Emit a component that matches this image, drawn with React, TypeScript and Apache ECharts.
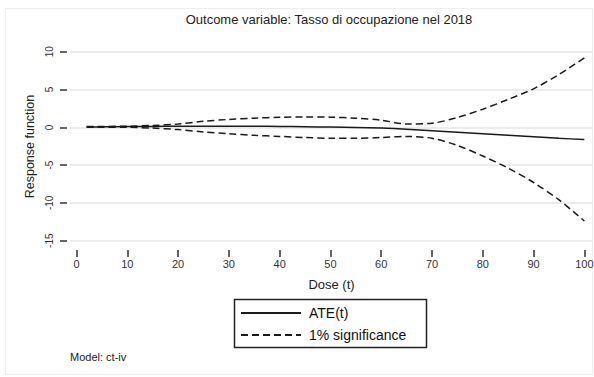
import React, { useEffect, useRef } from "react";
import * as echarts from "echarts";

const doseValues = [2, 5, 10, 15, 20, 25, 30, 35, 40, 45, 50, 55, 60, 65, 70, 75, 80, 85, 90, 95, 100];
const ateValues = [0.05, 0.07, 0.1, 0.12, 0.14, 0.15, 0.15, 0.14, 0.12, 0.08, 0.04, -0.02, -0.1, -0.25, -0.45, -0.65, -0.85, -1.05, -1.25, -1.45, -1.62];
const upperValues = [0.1, 0.12, 0.15, 0.25, 0.45, 0.8, 1.05, 1.22, 1.33, 1.37, 1.35, 1.2, 0.95, 0.45, 0.55, 1.3, 2.4, 3.7, 5.1, 7.0, 9.2];
const lowerValues = [0.0, 0.0, 0.0, -0.1, -0.3, -0.6, -0.85, -1.05, -1.2, -1.35, -1.45, -1.45, -1.35, -1.2, -1.45, -2.4, -3.8, -5.4, -7.3, -9.6, -12.4];
const xTicks = [0, 10, 20, 30, 40, 50, 60, 70, 80, 90, 100];
const yTicks = [-15, -10, -5, 0, 5, 10];

const titleText = "Outcome variable: Tasso di occupazione nel 2018";
const xName = "Dose (t)";
const yName = "Response function";
const ateName = "ATE(t)";
const bandName = "1% significance";
const noteText = "Model: ct-iv";

const FONT = "'Liberation Sans', Arial, Helvetica, sans-serif";
const INK = "#1a1a1a";

export default function App() {
  const ref = useRef<HTMLDivElement>(null);
  useEffect(() => {
    if (!ref.current) return;
    const chart = echarts.init(ref.current, undefined, { renderer: "svg" });
    const pair = (ys: number[]) => doseValues.map((x, i) => [x, ys[i]]);
    chart.setOption({
      animation: false,
      backgroundColor: "#ffffff",
      textStyle: { fontFamily: FONT },
      title: {
        text: titleText,
        left: 329,
        top: 13,
        textAlign: "center",
        padding: 0,
        textStyle: { fontSize: 13, fontWeight: "normal", color: "#222", fontFamily: FONT },
      },
      grid: { left: 70, right: 1, top: 45, bottom: 129, containLabel: false, outerBoundsMode: "none" },
      legend: {
        orient: "vertical",
        left: 240,
        top: 306,
        padding: 0,
        itemWidth: 60,
        itemHeight: 14,
        itemGap: 8,
        data: [ateName, bandName],
        itemStyle: { color: "transparent", borderColor: "transparent", borderWidth: 0, opacity: 0 },
        textStyle: { fontSize: 14, color: "#111", fontFamily: FONT, padding: [0, 0, 0, 3] },
      },
      xAxis: {
        type: "value",
        min: -1.28,
        max: 101.7,
        offset: 2,
        name: xName,
        nameLocation: "middle",
        nameGap: 28,
        nameTextStyle: { fontSize: 13, color: "#222", fontFamily: FONT },
        axisLine: { show: false, onZero: false },
        axisTick: { show: true, length: 7, customValues: xTicks, lineStyle: { color: "#333", width: 1.5 } },
        axisLabel: { customValues: xTicks, fontSize: 11, color: "#333", margin: 8, fontFamily: FONT },
        splitLine: { show: false },
      },
      yAxis: {
        type: "value",
        min: -15.97,
        max: 10.9,
        offset: 3,
        name: yName,
        nameLocation: "middle",
        nameGap: 30,
        nameTextStyle: { fontSize: 12.5, color: "#222", fontFamily: FONT },
        axisLine: { show: false, onZero: false },
        axisTick: { show: true, length: 7, customValues: yTicks, lineStyle: { color: "#333", width: 1.5 } },
        axisLabel: { customValues: yTicks, rotate: 90, fontSize: 10, color: "#333", margin: 13, fontFamily: FONT },
        splitLine: { show: true, lineStyle: { color: "#e6e6e6", width: 1.5 } },
      },
      series: [
        {
          name: ateName,
          type: "line",
          data: pair(ateValues),
          symbol: "none",
          smooth: 0.3,
          lineStyle: { color: INK, width: 1.5, type: "solid" },
          itemStyle: { color: INK },
          z: 3,
        },
        {
          name: bandName,
          type: "line",
          data: pair(upperValues),
          symbol: "none",
          smooth: 0.3,
          lineStyle: { color: INK, width: 1.5, type: [7, 4] },
          itemStyle: { color: INK },
        },
        {
          name: bandName,
          type: "line",
          data: pair(lowerValues),
          symbol: "none",
          smooth: 0.3,
          lineStyle: { color: INK, width: 1.5, type: [7, 4] },
          itemStyle: { color: INK },
        },
      ],
      graphic: [
        {
          type: "rect",
          shape: { x: 5.5, y: 8.5, width: 587, height: 366 },
          style: { fill: "none", stroke: "#eeeeee", lineWidth: 1 },
          silent: true,
          z: -1,
        },
        {
          type: "rect",
          shape: { x: 234.5, y: 299.5, width: 192, height: 48 },
          style: { fill: "none", stroke: "#222", lineWidth: 1.5 },
          silent: true,
        },
        {
          type: "text",
          x: 70,
          y: 357,
          style: { text: noteText, fontSize: 11, fill: "#222", fontFamily: FONT, textVerticalAlign: "middle", verticalAlign: "middle" },
          silent: true,
        },
      ],
    });
    return () => chart.dispose();
  }, []);
  return (
    <div
      ref={ref}
      style={{ position: "fixed", left: 0, top: 0, width: 594, height: 377 }}
    />
  );
}
